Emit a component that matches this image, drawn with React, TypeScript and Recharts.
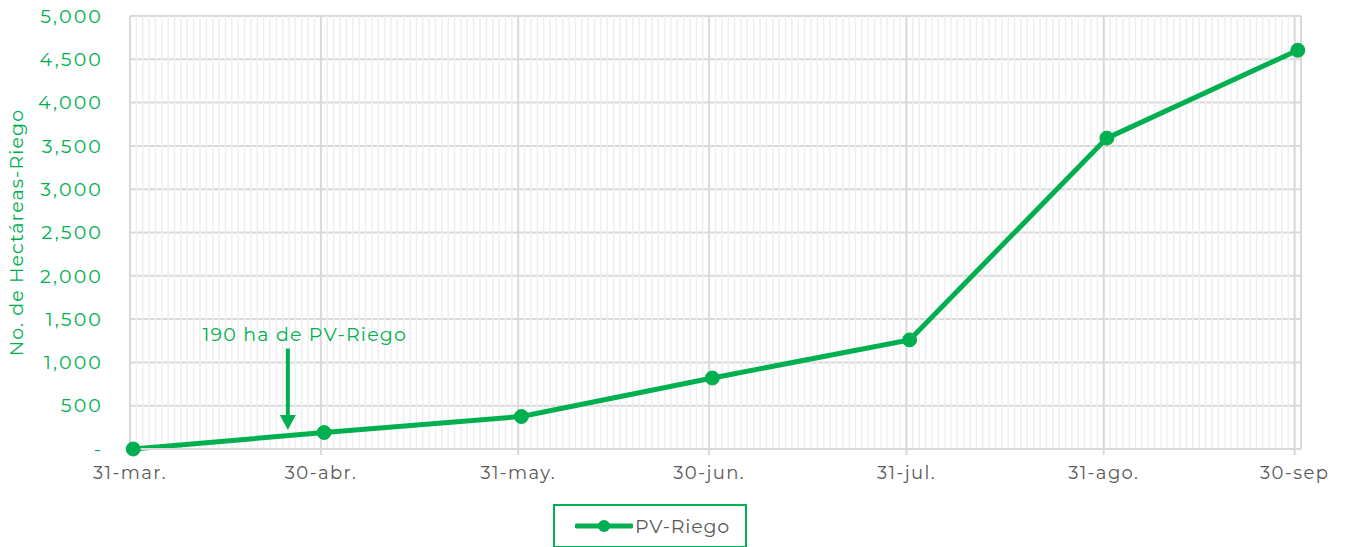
import { LineChart, Line, XAxis, YAxis, CartesianGrid, Legend, ReferenceLine, ReferenceDot } from 'recharts';

// days counted from 31-mar
const dayIndex = [0, 30, 61, 91, 122, 153, 183];
const dateLabels = ['31-mar.', '30-abr.', '31-may.', '30-jun.', '31-jul.', '31-ago.', '30-sep'];
const pvRiego = [0, 190, 375, 820, 1260, 3590, 4605];
const yTicks = [0, 500, 1000, 1500, 2000, 2500, 3000, 3500, 4000, 4500, 5000];
const totalDays = 184;

const GREEN = '#00b050';
const GRAY_TEXT = '#595959';
const FONT = 'Montserrat, "Open Sans", sans-serif';

const data = dayIndex.map((d, i) => ({ day: d, label: dateLabels[i], value: pvRiego[i] }));
const minorDays = Array.from({ length: totalDays + 1 }, (_, i) => i);

const formatY = (v: number) => (v === 0 ? '-' : v.toLocaleString('en-US'));
const formatX = (v: number) => dateLabels[dayIndex.indexOf(v)] ?? '';

// annotation arrow (day / value)
const arrowDay = 24.8;
const arrowTop = 1160;
const arrowTip = 220;

const ArrowHead = (props: any) => {
  const { cx, cy } = props;
  if (cx == null || cy == null) return null;
  return <path d={`M${cx - 8},${cy - 15} L${cx + 8},${cy - 15} L${cx},${cy} Z`} fill={GREEN} />;
};

const LegendBox = () => (
  <div
    style={{
      border: `2px solid ${GREEN}`,
      width: 194,
      height: 44,
      boxSizing: 'border-box',
      display: 'flex',
      alignItems: 'center',
      paddingLeft: 20,
      fontFamily: FONT,
      fontSize: 19,
      letterSpacing: 0.8,
      color: GRAY_TEXT,
    }}
  >
    <svg width={58} height={14} style={{ marginRight: 2 }}>
      <line x1={2} y1={7} x2={56} y2={7} stroke={GREEN} strokeWidth={5} strokeLinecap="round" />
      <circle cx={29} cy={7} r={6} fill={GREEN} />
    </svg>
    <span>PV-Riego</span>
  </div>
);

export default function App() {
  return (
    <div style={{ position: 'absolute', left: 0, top: 0, background: '#fff' }}>
      <LineChart width={1346} height={547} data={data} margin={{ top: 16, right: 45, left: 0, bottom: 0 }}>
        <CartesianGrid horizontal={true} vertical={false} stroke="#d9d9d9" strokeWidth={2} />
        {minorDays.map((d) => (
          <ReferenceLine key={`m-${d}`} x={d} stroke="#efefef" strokeWidth={1.5} ifOverflow="visible" />
        ))}
        {dayIndex.map((d) => (
          <ReferenceLine key={`M-${d}`} x={d} stroke="#d9d9d9" strokeWidth={2} />
        ))}
        <ReferenceLine x={totalDays} stroke="#d9d9d9" strokeWidth={2} />
        <XAxis
          dataKey="day"
          type="number"
          domain={[0, totalDays]}
          ticks={dayIndex}
          tickFormatter={formatX}
          interval={0}
          stroke="#d9d9d9"
          strokeWidth={2}
          tickSize={6}
          tickMargin={11}
          height={54}
          tick={{ fill: GRAY_TEXT, fontSize: 18, fontFamily: FONT, letterSpacing: 1.4 }}
        />
        {/* points sit at the middle of each day */}
        <XAxis xAxisId="pts" dataKey="day" type="number" domain={[-0.5, totalDays - 0.5]} hide />
        <YAxis
          domain={[0, 5000]}
          ticks={yTicks}
          tickFormatter={formatY}
          axisLine={false}
          tickLine={false}
          tickSize={0}
          tickMargin={27}
          width={130}
          tick={{ fill: GREEN, fontSize: 19, fontFamily: FONT, letterSpacing: 2.1 }}
          label={{
            value: 'No. de Hectáreas-Riego',
            angle: -90,
            position: 'insideLeft',
            dx: 11,
            style: { textAnchor: 'middle', fill: GREEN, fontSize: 19, fontFamily: FONT, letterSpacing: 1.1 },
          }}
        />
        <ReferenceLine
          segment={[
            { x: arrowDay, y: arrowTop },
            { x: arrowDay, y: arrowTip + 150 },
          ]}
          stroke={GREEN}
          strokeWidth={4}
          label={{
            value: '190 ha de PV-Riego',
            position: 'top',
            fill: GREEN,
            fontSize: 19,
            fontFamily: FONT,
            letterSpacing: 1.2,
            dy: -3,
            dx: 17,
          }}
        />
        <ReferenceDot x={arrowDay} y={arrowTip} shape={ArrowHead} />
        <Line
          xAxisId="pts"
          type="linear"
          dataKey="value"
          name="PV-Riego"
          stroke={GREEN}
          strokeWidth={5}
          dot={{ r: 7, fill: GREEN, stroke: GREEN, strokeWidth: 1 }}
          isAnimationActive={false}
        />
        <Legend
          verticalAlign="bottom"
          align="left"
          content={<LegendBox />}
          wrapperStyle={{ left: 553, top: 504, width: 194, bottom: 'auto' }}
        />
      </LineChart>
    </div>
  );
}
